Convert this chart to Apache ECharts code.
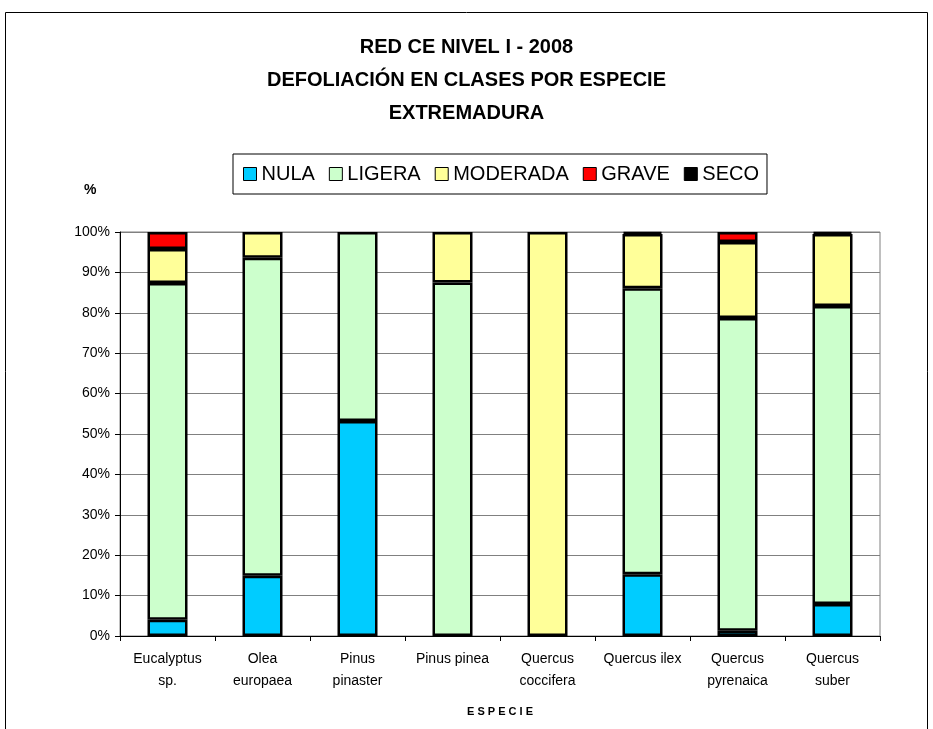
<!DOCTYPE html>
<html>
<head>
<meta charset="utf-8">
<script src="https://cdn.jsdelivr.net/npm/echarts@6/dist/echarts.min.js"></script>
<style>
	html, body { margin: 0; padding: 0; background: #fff; }
	#chart { width: 933px; height: 729px; }
</style>
</head>
<body>
<div id="chart"></div>
<script>
	// especies (eje X)
	var especies = ['Eucalyptus\nsp.', 'Olea\neuropaea', 'Pinus\npinaster', 'Pinus pinea',
		'Quercus\ncoccifera', 'Quercus ilex', 'Quercus\npyrenaica', 'Quercus\nsuber'];
	// porcentaje por clase de defoliación
	var nula     = [4.0, 14.9, 53.2, 0, 0, 15.3, 1.3, 7.9];
	var ligera   = [83.4, 78.7, 46.8, 87.5, 0, 70.8, 77.4, 73.8];
	var moderada = [8.4, 6.4, 0, 12.5, 100, 13.4, 18.8, 17.8];
	var grave    = [4.2, 0, 0, 0, 0, 0, 2.5, 0];
	var seco     = [0, 0, 0, 0, 0, 0.5, 0, 0.5];
	var yTicks = [0, 10, 20, 30, 40, 50, 60, 70, 80, 90, 100];

	var chart = echarts.init(document.getElementById('chart'));
	var font = 'Liberation Sans, Arial, sans-serif';

	function serie(name, data, color) {
		return {
			name: name,
			type: 'bar',
			stack: 'total',
			barWidth: 40,
			// los ceros no se dibujan (evita bordes vacíos)
			data: data.map(function (v) { return v === 0 ? '-' : v; }),
			itemStyle: { color: color, borderColor: '#000', borderWidth: 2.5 }
		};
	}

	chart.setOption({
		animation: false,
		title: {
			text: 'RED CE NIVEL I - 2008\nDEFOLIACIÓN EN CLASES POR ESPECIE\nEXTREMADURA',
			left: 'center',
			top: 26,
			textStyle: { fontFamily: font, fontSize: 20, fontWeight: 'bold', color: '#000', lineHeight: 33 }
		},
		legend: {
			top: 154,
			left: 233,
			itemWidth: 13,
			itemHeight: 13,
			itemGap: 14,
			padding: [10, 8, 10, 10],
			borderColor: '#000',
			borderWidth: 1,
			icon: 'rect',
			itemStyle: { borderColor: '#000', borderWidth: 1 },
			textStyle: { fontFamily: font, fontSize: 20, color: '#000' },
			data: ['NULA', 'LIGERA', 'MODERADA', 'GRAVE', 'SECO']
		},
		grid: {
			left: 120,
			right: 53,
			top: 232,
			bottom: 93,
			show: true,
			borderColor: '#808080',
			borderWidth: 1
		},
		graphic: [{
			type: 'rect',
			shape: { x: 5.5, y: 12.5, width: 922, height: 740 },
			style: { fill: 'none', stroke: '#000', lineWidth: 1 },
			silent: true
		}, {
			type: 'text',
			left: 84,
			top: 183,
			style: { text: '%', fontFamily: font, fontSize: 14, fontWeight: 'bold', fill: '#000' }
		}],
		xAxis: {
			type: 'category',
			data: especies,
			name: 'E S P E C I E',
			nameLocation: 'middle',
			nameGap: 70,
			nameTextStyle: { fontFamily: font, fontSize: 11, fontWeight: 'bold', color: '#000' },
			axisLine: { lineStyle: { color: '#000', width: 1 } },
			axisTick: { show: true, length: 5, lineStyle: { color: '#000' } },
			axisLabel: { interval: 0, fontFamily: font, fontSize: 14, color: '#000', lineHeight: 22, margin: 12 }
		},
		yAxis: {
			type: 'value',
			min: yTicks[0],
			max: yTicks[yTicks.length - 1],
			interval: 10,
			axisLine: { show: true, lineStyle: { color: '#000' } },
			axisTick: { show: true, length: 5, lineStyle: { color: '#000' } },
			axisLabel: { fontFamily: font, fontSize: 14, color: '#000', margin: 10, formatter: '{value}%' },
			splitLine: { lineStyle: { color: '#808080', width: 1 } }
		},
		series: [
			serie('NULA', nula, '#00ccff'),
			serie('LIGERA', ligera, '#ccffcc'),
			serie('MODERADA', moderada, '#ffff99'),
			serie('GRAVE', grave, '#ff0000'),
			serie('SECO', seco, '#000000')
		]
	});
</script>
</body>
</html>
